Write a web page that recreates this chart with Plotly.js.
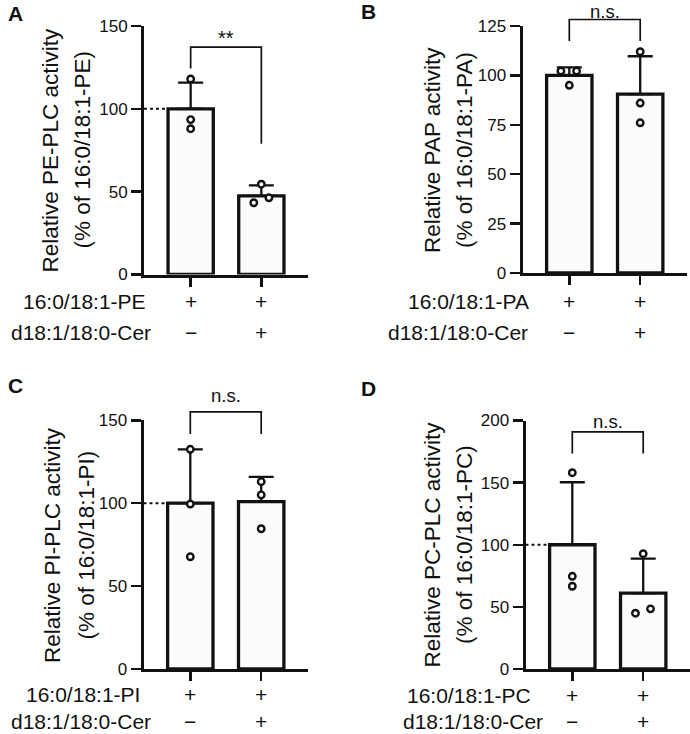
<!DOCTYPE html>
<html><head><meta charset="utf-8">
<script src="https://cdn.plot.ly/plotly-3.0.1.min.js"></script>
<style>html,body{margin:0;padding:0;background:#fff;} #chart{width:690px;height:734px;}</style>
</head><body><div id="chart"></div>
<script>
// ---------------- data ----------------
const categories = [0, 1]; // 0: substrate alone, 1: substrate + ceramide
const substrateLabels = ['16:0/18:1-PE', '16:0/18:1-PA', '16:0/18:1-PI', '16:0/18:1-PC'];
const ceramideLabel = 'd18:1/18:0-Cer';
const substrateSigns = ['+', '+'];
const ceramideSigns = ['\u2212', '+'];
const panelLetters = ['A', 'B', 'C', 'D'];
const yTitleTop = ['Relative PE-PLC activity', 'Relative PAP activity', 'Relative PI-PLC activity', 'Relative PC-PLC activity'];
const yTitleBottom = ['(% of 16:0/18:1-PE)', '(% of 16:0/18:1-PA)', '(% of 16:0/18:1-PI)', '(% of 16:0/18:1-PC)'];
const sigLabels = ['**', 'n.s.', 'n.s.', 'n.s.'];

const meanA = [100, 47.5];
const sdA = [15.8, 6.3];
const pointsA = [[118, 93.5, 88], [54.5, 43.3, 46.3]];

const meanB = [100, 90.5];
const sdB = [4.1, 19.2];
const pointsB = [[102.2, 102.2, 95], [112, 86, 76]];

const meanC = [100, 101];
const sdC = [32.5, 14.9];
const pointsC = [[132.5, 99.5, 67.7], [113, 105, 84.6]];

const meanD = [100, 61];
const sdD = [50.3, 27.8];
const pointsD = [[158, 74.6, 66.6], [92.8, 44.9, 48.4]];

const yTicksA = [0, 50, 100, 150];
const yTicksB = [0, 25, 50, 75, 100, 125];
const yTicksC = [0, 50, 100, 150];
const yTicksD = [0, 50, 100, 150, 200];

// significance brackets (y units: left leg bottom, top, top, right leg bottom)
const bracketA = [124.3, 137.2, 137.2, 78.9];
const bracketB = [117.4, 128.3, 128.3, 117.4];
const bracketC = [141.7, 155.1, 155.1, 141.7];
const bracketD = [173.5, 190.9, 190.9, 173.5];
const sigLabelY = [143, 132.3, 165, 199.5];

// ---------------- layout / style ----------------
const W = 690, H = 734;
const FONT = '"Liberation Sans", Arial, Helvetica, sans-serif';
const INK = '#111111';
const px = v => v / W;
const py = v => 1 - v / H;
const XRANGE = [-0.66, 1.66];
const BARW = 0.64;
const fx = v => (v - XRANGE[0]) / (XRANGE[1] - XRANGE[0]); // x value -> fraction of x domain

const panels = [
  {mean: meanA, sd: sdA, pts: pointsA, ticks: yTicksA, bracket: bracketA,
   xdom: [144, 308], ydom: [26, 274.5], letter: [15, 13.5], t1: 49.5, t2: 81.5, tY: 150,
   row1: [148, 301.7], row2: [153, 332], dotted: true, sigSize: 20,
   jitter: [[0, 0, 0], [0, -0.107, 0.107]]},
  {mean: meanB, sd: sdB, pts: pointsB, ticks: yTicksB, bracket: bracketB,
   xdom: [522.5, 687], ydom: [26, 273], letter: [368, 11.7], t1: 432, t2: 464, tY: 150,
   row1: [530.7, 301.7], row2: [530, 332], dotted: false, sigSize: 18.5,
   jitter: [[-0.118, 0.103, 0], [0, 0, 0]]},
  {mean: meanC, sd: sdC, pts: pointsC, ticks: yTicksC, bracket: bracketC,
   xdom: [143.5, 308], ydom: [420.3, 669], letter: [15, 385], t1: 52, t2: 85.5, tY: 545,
   row1: [141.7, 694], row2: [153, 721], dotted: true, sigSize: 18.5,
   jitter: [[0, 0, 0], [0, 0, 0]]},
  {mean: meanD, sd: sdD, pts: pointsD, ticks: yTicksD, bracket: bracketD,
   xdom: [525.5, 690], ydom: [420.5, 669], letter: [368, 388.7], t1: 431.5, t2: 464, tY: 545,
   row1: [533.3, 695], row2: [545, 721.5], dotted: true, sigSize: 18.5,
   jitter: [[0, 0, 0], [0, -0.109, 0.103]]}
];

const traces = [];
const annotations = [];
const shapes = [];
const layout = {
  width: W, height: H,
  margin: {l: 0, r: 0, t: 0, b: 0},
  paper_bgcolor: '#ffffff', plot_bgcolor: 'rgba(0,0,0,0)',
  showlegend: false,
  font: {family: FONT, color: INK}
};

panels.forEach((p, i) => {
  const n = i === 0 ? '' : String(i + 1);
  const xa = 'x' + n, ya = 'y' + n;
  const yMax = p.ticks[p.ticks.length - 1];

  layout['xaxis' + n] = {
    domain: [px(p.xdom[0]), px(p.xdom[1])], range: XRANGE, anchor: ya,
    showline: true, linewidth: 3, linecolor: INK,
    ticks: 'outside', tickvals: categories, ticklen: 9, tickwidth: 2.5, tickcolor: INK,
    showticklabels: false, showgrid: false, zeroline: false, fixedrange: true
  };
  layout['yaxis' + n] = {
    domain: [py(p.ydom[1]), py(p.ydom[0])], range: [0, yMax], anchor: xa,
    showline: true, linewidth: 3, linecolor: INK,
    ticks: 'outside', tickvals: p.ticks, ticktext: p.ticks.map(String),
    ticklen: 10, tickwidth: 2.5, tickcolor: INK,
    tickfont: {family: FONT, size: 17, color: INK},
    showgrid: false, zeroline: false, fixedrange: true
  };

  traces.push({
    type: 'bar', x: categories, y: p.mean, width: BARW, xaxis: xa, yaxis: ya,
    marker: {color: '#fcfcfc', line: {color: INK, width: 3.3}},
    error_y: {type: 'data', symmetric: false, array: p.sd, arrayminus: [0, 0],
              color: INK, thickness: 2.3, width: 12.5},
    hoverinfo: 'skip'
  });

  const xs = [], ys = [];
  p.pts.forEach((grp, g) => grp.forEach((v, k) => { xs.push(categories[g] + p.jitter[g][k]); ys.push(v); }));
  traces.push({
    type: 'scatter', mode: 'markers', x: xs, y: ys, xaxis: xa, yaxis: ya,
    marker: {symbol: 'circle', size: 6.5, color: '#ffffff', line: {color: INK, width: 2.4}},
    cliponaxis: false, hoverinfo: 'skip'
  });

  // significance bracket (in axis-domain fractions so it is not clipped above the top tick)
  const b = p.bracket.map(v => v / yMax);
  const x0 = fx(categories[0]), x1 = fx(categories[1]);
  shapes.push({type: 'path', xref: xa + ' domain', yref: ya + ' domain',
    path: `M${x0},${b[0]} L${x0},${b[1]} L${x1},${b[2]} L${x1},${b[3]}`,
    line: {color: INK, width: 1.7}});
  annotations.push({text: sigLabels[i], xref: xa + ' domain', yref: ya + ' domain',
    x: fx(0.5), y: sigLabelY[i] / yMax, xanchor: 'center', yanchor: 'middle', showarrow: false,
    font: {family: FONT, size: p.sigSize, color: INK}});

  if (p.dotted) {
    shapes.push({type: 'line', xref: xa, yref: ya, x0: XRANGE[0], x1: -BARW / 2 - 0.03, y0: 100, y1: 100,
                 line: {color: INK, width: 2, dash: 'dot'}});
  }

  annotations.push({text: '<b>' + panelLetters[i] + '</b>', xref: 'paper', yref: 'paper',
    x: px(p.letter[0]), y: py(p.letter[1]), xanchor: 'center', yanchor: 'middle', showarrow: false,
    font: {family: FONT, size: 21, color: INK}});
  annotations.push({text: yTitleTop[i], xref: 'paper', yref: 'paper', textangle: -90,
    x: px(p.t1), y: py(p.tY), xanchor: 'center', yanchor: 'middle', showarrow: false,
    font: {family: FONT, size: 22.5, color: INK}});
  annotations.push({text: yTitleBottom[i], xref: 'paper', yref: 'paper', textangle: -90,
    x: px(p.t2), y: py(p.tY), xanchor: 'center', yanchor: 'middle', showarrow: false,
    font: {family: FONT, size: 22.5, color: INK}});
  annotations.push({text: substrateLabels[i], xref: 'paper', yref: 'paper',
    x: px(p.row1[0]), y: py(p.row1[1]), xanchor: 'right', yanchor: 'middle', showarrow: false,
    font: {family: FONT, size: 21, color: INK}});
  annotations.push({text: ceramideLabel, xref: 'paper', yref: 'paper',
    x: px(p.row2[0]), y: py(p.row2[1]), xanchor: 'right', yanchor: 'middle', showarrow: false,
    font: {family: FONT, size: 21, color: INK}});
  categories.forEach((c, g) => {
    annotations.push({text: substrateSigns[g], xref: xa, yref: 'paper', x: c, y: py(p.row1[1]),
      xanchor: 'center', yanchor: 'middle', showarrow: false, font: {family: FONT, size: 21, color: INK}});
    annotations.push({text: ceramideSigns[g], xref: xa, yref: 'paper', x: c, y: py(p.row2[1]),
      xanchor: 'center', yanchor: 'middle', showarrow: false, font: {family: FONT, size: 21, color: INK}});
  });
});

layout.annotations = annotations;
layout.shapes = shapes;

Plotly.newPlot('chart', traces, layout, {displayModeBar: false, staticPlot: true});
</script></body></html>
